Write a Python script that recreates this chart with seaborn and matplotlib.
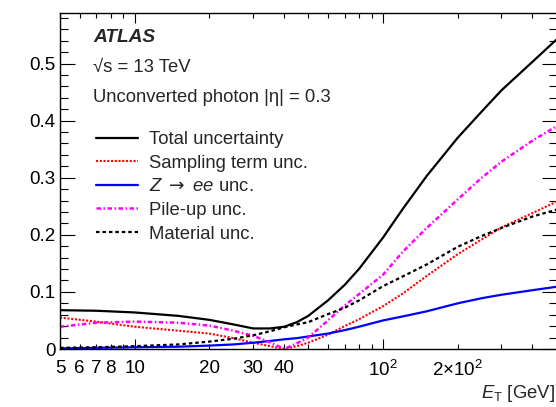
import numpy as np
import pandas as pd
import matplotlib
matplotlib.use("Agg")
import matplotlib.pyplot as plt
from matplotlib.ticker import FixedLocator, FuncFormatter
from matplotlib.lines import Line2D
import seaborn as sns

# Photon energy-scale systematic uncertainties vs transverse energy
et_gev = [5, 7, 10, 15, 20, 25, 30, 35, 40, 45, 50, 60, 70, 80, 100, 120, 150, 200, 250, 300, 400, 500]
total_unc = [0.068, 0.067, 0.064, 0.058, 0.051, 0.043, 0.036, 0.036, 0.039, 0.047, 0.058, 0.085, 0.112, 0.140,
             0.195, 0.245, 0.303, 0.370, 0.416, 0.453, 0.503, 0.542]
sampling_unc = [0.055, 0.048, 0.039, 0.032, 0.027, 0.019, 0.011, 0.005, 0.0, 0.005, 0.011, 0.025, 0.040, 0.052,
                0.075, 0.097, 0.128, 0.166, 0.192, 0.213, 0.238, 0.258]
zee_unc = [0.001, 0.002, 0.003, 0.004, 0.006, 0.008, 0.011, 0.014, 0.017, 0.019, 0.022, 0.027, 0.033, 0.039,
           0.050, 0.057, 0.066, 0.080, 0.089, 0.095, 0.103, 0.109]
pileup_unc = [0.039, 0.046, 0.048, 0.046, 0.041, 0.032, 0.023, 0.012, 0.0, 0.010, 0.020, 0.050, 0.076, 0.096,
              0.130, 0.170, 0.212, 0.262, 0.300, 0.328, 0.365, 0.390]
material_unc = [0.002, 0.003, 0.005, 0.008, 0.013, 0.018, 0.024, 0.031, 0.038, 0.043, 0.047, 0.061, 0.072, 0.085,
                0.110, 0.127, 0.148, 0.179, 0.198, 0.212, 0.232, 0.244]

series_labels = ["Total uncertainty", "Sampling term unc.", r"$Z\ \mathsf{\rightarrow}\ ee$ unc.",
                 "Pile-up unc.", "Material unc."]
x_tick_values = [5, 6, 7, 8, 10, 20, 30, 40, 100, 200]
x_tick_labels = ["5", "6", "7", "8", "10", "20", "30", "40", r"$10^{2}$", r"$2{\times}10^{2}$"]

sns.set_theme(style="ticks")
plt.rcParams["font.family"] = ["Liberation Sans", "DejaVu Sans"]
plt.rcParams["mathtext.fontset"] = "custom"
plt.rcParams["mathtext.rm"] = "Liberation Sans"
plt.rcParams["mathtext.it"] = "Liberation Sans:italic"
plt.rcParams["mathtext.bf"] = "Liberation Sans:bold"
plt.rcParams["mathtext.sf"] = "DejaVu Sans"
plt.rcParams["axes.linewidth"] = 1.0

df = pd.DataFrame({
    "et": et_gev,
    "total": total_unc,
    "sampling": sampling_unc,
    "zee": zee_unc,
    "pileup": pileup_unc,
    "material": material_unc,
})

fig = plt.figure(figsize=(5.56, 4.07), dpi=100)
ax = fig.add_axes([60 / 556, 58 / 407, 496.5 / 556, 336.3 / 407])

styles = [
    ("total", "#000000", "-", 1.6),
    ("sampling", "#ff0000", (0, (1.0, 0.8)), 1.5),
    ("zee", "#0000ff", "-", 1.6),
    ("pileup", "#ff00ff", (0, (1.8, 1.0, 0.6, 1.0)), 1.8),
    ("material", "#000000", (0, (1.6, 1.3)), 1.6),
]

handles = []
for (col, color, ls, lw), label in zip(styles, series_labels):
    sns.lineplot(data=df, x="et", y=col, ax=ax, color=color, linestyle=ls, linewidth=lw,
                 estimator=None, sort=False, legend=False)
    handles.append(Line2D([], [], color=color, linestyle=ls, linewidth=lw, label=label))

ax.set_xscale("log")
ax.set_xlim(5, 500)
ax.set_ylim(0, 0.589)
ax.set_xlabel("")
ax.set_ylabel("")

# x axis: long ticks at decades, short ticks elsewhere, ROOT-like labels
major_x = [10, 100]
minor_x = list(range(5, 10)) + list(range(20, 100, 10)) + list(range(200, 600, 100))
label_map = dict(zip(x_tick_values, x_tick_labels))
ax.xaxis.set_major_locator(FixedLocator(major_x))
ax.xaxis.set_minor_locator(FixedLocator(minor_x))
ax.xaxis.set_major_formatter(FuncFormatter(lambda v, p: label_map.get(int(round(v)), "")))
ax.xaxis.set_minor_formatter(FuncFormatter(lambda v, p: label_map.get(int(round(v)), "")))

ax.yaxis.set_major_locator(FixedLocator(np.round(np.arange(0, 0.6, 0.1), 2)))
ax.yaxis.set_minor_locator(FixedLocator(np.round(np.arange(0, 0.59, 0.02), 2)))
ax.yaxis.set_major_formatter(FuncFormatter(lambda v, p: "0" if v == 0 else f"{v:.1f}"))

ax.tick_params(axis="both", which="both", direction="in", top=True, right=True, width=0.8,
               labelsize=13.5, colors="black")
ax.tick_params(axis="x", which="major", length=7, pad=8)
ax.tick_params(axis="x", which="minor", length=3.6, pad=8)
ax.tick_params(axis="y", which="major", length=10.5, pad=3)
ax.tick_params(axis="y", which="minor", length=5.5)
for s in ax.spines.values():
    s.set_visible(True)
    s.set_color("black")

tx = (93 - 60) / 496.5
ax.text(tx, 0.914, "ATLAS", transform=ax.transAxes, fontsize=13.8, fontweight="bold", fontstyle="italic",
        va="baseline", ha="left")
ax.text(tx, 0.824, "√s = 13 TeV", transform=ax.transAxes, fontsize=13.3, va="baseline", ha="left")
ax.text(tx, 0.735, "Unconverted photon |η| = 0.3", transform=ax.transAxes, fontsize=13.3,
        va="baseline", ha="left")

ax.legend(handles=handles, loc="upper left", bbox_to_anchor=((95.7 - 60) / 496.5, (349 - 131) / 336.3),
          frameon=False, fontsize=13.3, handlelength=2.3, handletextpad=0.6, labelspacing=0.36,
          borderaxespad=0, borderpad=0)

fig.text(555 / 556, 9 / 407, r"$E_{\mathrm{T}}$ [GeV]", fontsize=13.3, ha="right", va="baseline")

fig.savefig("out.png", dpi=100, facecolor="white")
